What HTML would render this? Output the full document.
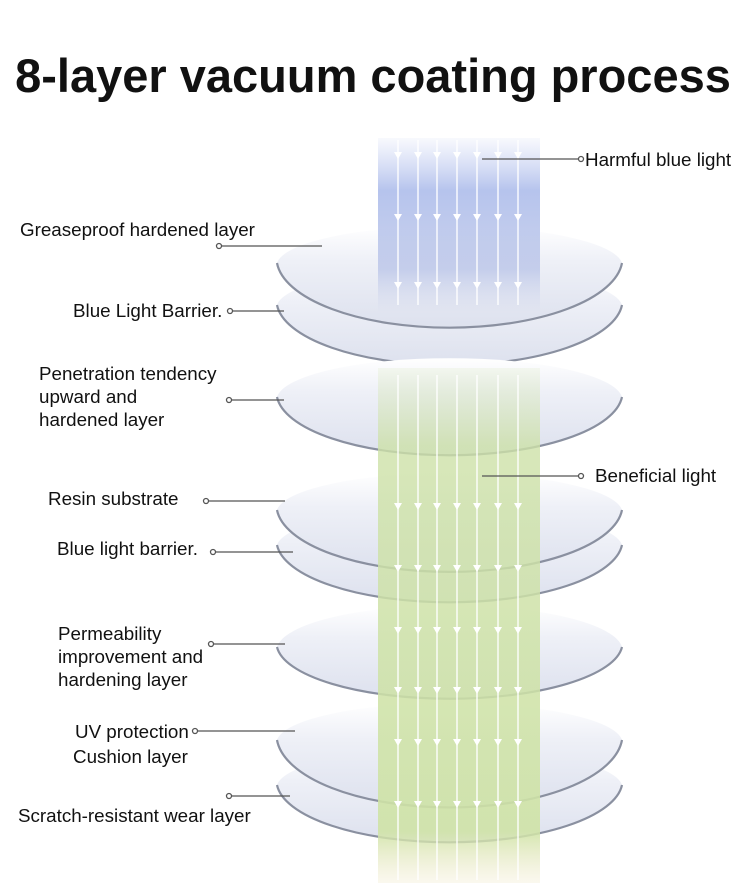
<!DOCTYPE html>
<html><head><meta charset="utf-8"><style>
body{margin:0;background:#fff}
svg{display:block}
text{font-family:"Liberation Sans",Arial,sans-serif;fill:#111}
</style></head><body>
<svg width="750" height="896" viewBox="0 0 750 896" xmlns="http://www.w3.org/2000/svg">
<defs>
<linearGradient id="lens" x1="0" y1="0" x2="0" y2="1">
<stop offset="0" stop-color="#ffffff"/><stop offset="0.35" stop-color="#eef0f7"/><stop offset="1" stop-color="#dde1ee"/>
</linearGradient>
<linearGradient id="blue" x1="0" y1="0" x2="0" y2="1">
<stop offset="0" stop-color="#b8c4ee" stop-opacity="0.1"/><stop offset="0.3" stop-color="#a9b9ea" stop-opacity="0.85"/><stop offset="0.75" stop-color="#b3bfe6" stop-opacity="0.7"/><stop offset="1" stop-color="#c9d0ea" stop-opacity="0"/>
</linearGradient>
<linearGradient id="green" x1="0" y1="0" x2="0" y2="1">
<stop offset="0" stop-color="#d6e6b8" stop-opacity="0.2"/><stop offset="0.15" stop-color="#cde1a8" stop-opacity="0.8"/><stop offset="0.9" stop-color="#cfe3a6" stop-opacity="0.9"/><stop offset="1" stop-color="#f0e8c8" stop-opacity="0.3"/>
</linearGradient>
</defs>
<text x="373" y="92" text-anchor="middle" font-size="47" font-weight="bold">8-layer vacuum coating process</text>

<g fill="url(#lens)">
<path d="M277,305 A173,40 0 0 1 622,305 A173,65 0 0 1 277,305Z"/>
<path d="M277,305 A173,65 0 0 0 622,305" fill="none" stroke="#8a90a0" stroke-width="2.2"/>
<path d="M277,263 A173,40 0 0 1 622,263 A173,70 0 0 1 277,263Z"/>
<path d="M277,263 A173,70 0 0 0 622,263" fill="none" stroke="#8a90a0" stroke-width="2.2"/>
<path d="M277,397 A173,42 0 0 1 622,397 A173,63 0 0 1 277,397Z"/>
<path d="M277,397 A173,63 0 0 0 622,397" fill="none" stroke="#8a90a0" stroke-width="2.2"/>
<path d="M277,545 A173,40 0 0 1 622,545 A173,62 0 0 1 277,545Z"/>
<path d="M277,545 A173,62 0 0 0 622,545" fill="none" stroke="#8a90a0" stroke-width="2.2"/>
<path d="M277,510 A173,40 0 0 1 622,510 A173,67 0 0 1 277,510Z"/>
<path d="M277,510 A173,67 0 0 0 622,510" fill="none" stroke="#8a90a0" stroke-width="2.2"/>
<path d="M277,647 A173,45 0 0 1 622,647 A173,56 0 0 1 277,647Z"/>
<path d="M277,647 A173,56 0 0 0 622,647" fill="none" stroke="#8a90a0" stroke-width="2.2"/>
<path d="M277,785 A173,40 0 0 1 622,785 A173,62 0 0 1 277,785Z"/>
<path d="M277,785 A173,62 0 0 0 622,785" fill="none" stroke="#8a90a0" stroke-width="2.2"/>
<path d="M277,740 A173,40 0 0 1 622,740 A173,73 0 0 1 277,740Z"/>
<path d="M277,740 A173,73 0 0 0 622,740" fill="none" stroke="#8a90a0" stroke-width="2.2"/>
</g>

<rect x="378" y="138" width="162" height="175" fill="url(#blue)"/>
<rect x="378" y="368" width="162" height="515" fill="url(#green)"/>

<g stroke="#fff" stroke-width="1.5" opacity="0.9">
<path d="M398,140V305M418,140V305M437,140V305M457,140V305M477,140V305M498,140V305M518,140V305"/>
<path d="M398,375V880M418,375V880M437,375V880M457,375V880M477,375V880M498,375V880M518,375V880"/>
</g>
<g fill="#fff">
<g id="ar">
<path d="M394,152h8l-4,7z M414,152h8l-4,7z M433,152h8l-4,7z M453,152h8l-4,7z M473,152h8l-4,7z M494,152h8l-4,7z M514,152h8l-4,7z"/>
</g>
<use href="#ar" y="62"/><use href="#ar" y="130"/>
<use href="#ar" y="351"/><use href="#ar" y="413"/><use href="#ar" y="475"/><use href="#ar" y="535"/><use href="#ar" y="587"/><use href="#ar" y="649"/>
</g>

<g stroke="#555" stroke-width="1.3" fill="#fff">
<path d="M482,159H578"/><circle cx="581" cy="159" r="2.5"/>
<path d="M482,476H578"/><circle cx="581" cy="476" r="2.5"/>
<path d="M221,246H322"/><circle cx="219" cy="246" r="2.5"/>
<path d="M232,311H284"/><circle cx="230" cy="311" r="2.5"/>
<path d="M231,400H284"/><circle cx="229" cy="400" r="2.5"/>
<path d="M208,501H285"/><circle cx="206" cy="501" r="2.5"/>
<path d="M215,552H293"/><circle cx="213" cy="552" r="2.5"/>
<path d="M213,644H285"/><circle cx="211" cy="644" r="2.5"/>
<path d="M197,731H295"/><circle cx="195" cy="731" r="2.5"/>
<path d="M231,796H290"/><circle cx="229" cy="796" r="2.5"/>
</g>

<g font-size="18.8">
<text x="585" y="166">Harmful blue light</text>
<text x="595" y="482">Beneficial light</text>
<text x="20" y="236">Greaseproof hardened layer</text>
<text x="73" y="317">Blue Light Barrier.</text>
<text x="39" y="380">Penetration tendency</text>
<text x="39" y="403">upward and</text>
<text x="39" y="426">hardened layer</text>
<text x="48" y="505">Resin substrate</text>
<text x="57" y="555">Blue light barrier.</text>
<text x="58" y="640">Permeability</text>
<text x="58" y="663">improvement and</text>
<text x="58" y="686">hardening layer</text>
<text x="75" y="738">UV protection</text>
<text x="73" y="763">Cushion layer</text>
<text x="18" y="822">Scratch-resistant wear layer</text>
</g>
</svg>
</body></html>
